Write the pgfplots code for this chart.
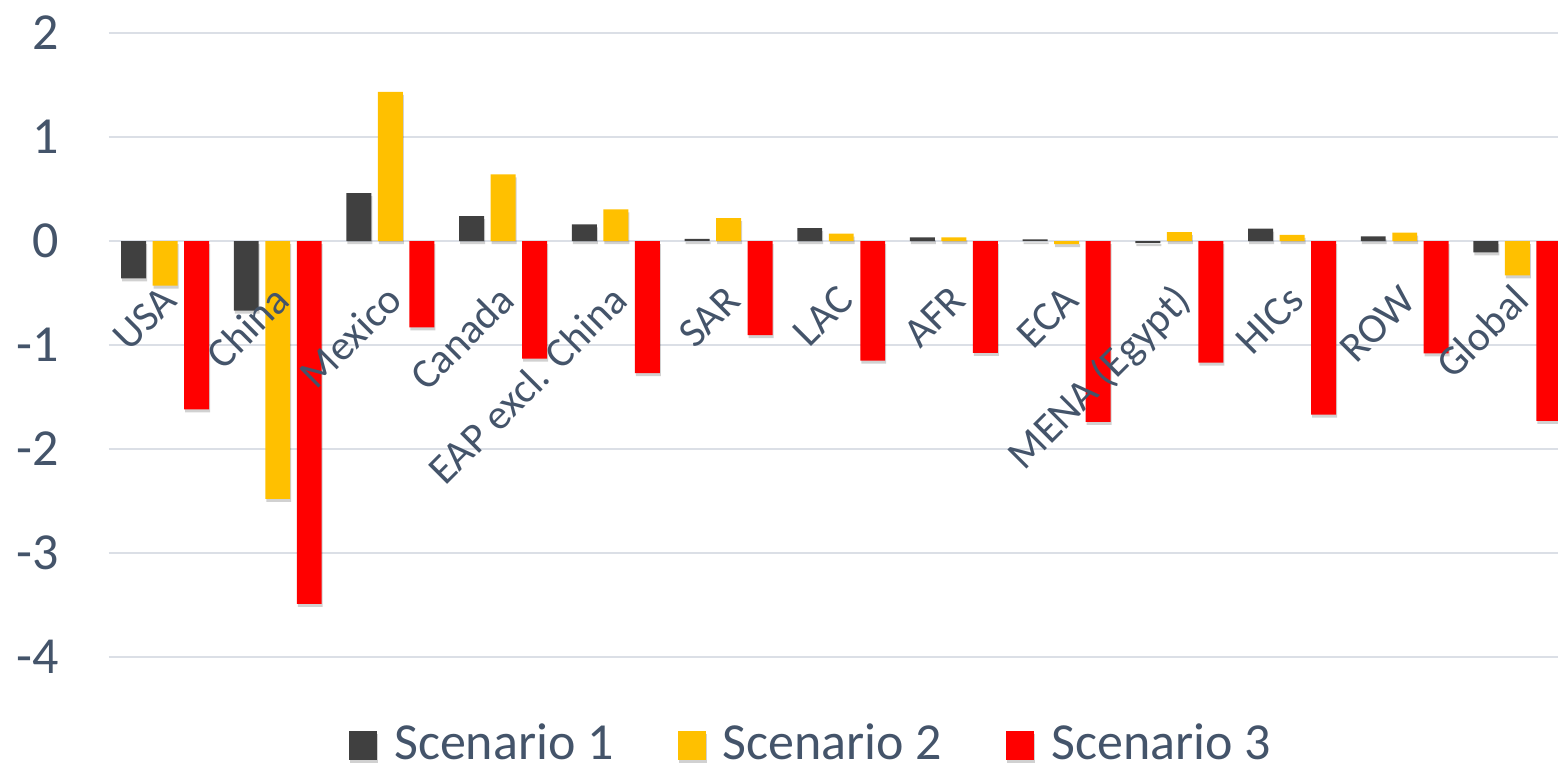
\documentclass[border=0pt]{standalone}
\usepackage{fontspec}
\setmainfont{Carlito}
\usepackage{pgfplots}
\pgfplotsset{compat=1.18}
\usetikzlibrary{shadows}
\definecolor{sone}{HTML}{404040}
\definecolor{stwo}{HTML}{FFC000}
\definecolor{sthree}{HTML}{FF0000}
\definecolor{txt}{HTML}{44546A}
\definecolor{grd}{RGB}{219,223,230}
\pgfplotsset{
  layers/mylayers/.define layer set={axis background, axis grid, axis ticks, axis lines, pre main, main, axis tick labels, axis descriptions, axis foreground}{
    grid style={/pgfplots/on layer=axis grid},
    tick style={/pgfplots/on layer=axis ticks},
    axis line style={/pgfplots/on layer=axis lines},
    label style={/pgfplots/on layer=axis descriptions},
    legend style={/pgfplots/on layer=axis descriptions},
    title style={/pgfplots/on layer=axis descriptions},
    ticklabel style={/pgfplots/on layer=axis tick labels},
  },
  barshadow/.style={drop shadow={shadow xshift=1pt, shadow yshift=-3pt, opacity=0.18, fill=black}},
}
\begin{document}
\begin{tikzpicture}
\begin{axis}[
  set layers=mylayers,
  at={(108.7pt,107pt)}, anchor=south west,
  scale only axis, width=1449.3pt, height=624pt,
  xmin=-0.5, xmax=12.36, ymin=-4, ymax=2,
  ytick={-4,-3,-2,-1,0,1,2},
  xtick={0,1,2,3,4,5,6,7,8,9,10,11,12},
  xticklabels={USA, China, Mexico, Canada, EAP excl. China, SAR, LAC, AFR, ECA, MENA (Egypt), HICs, ROW, Global},
  /pgf/number format/assume math mode=true,
  ymajorgrids, xmajorgrids=false,
  major grid style={draw=grd, line width=2pt},
  axis line style={draw=none},
  tick style={draw=none},
  major tick length=0pt,
  yticklabel style={font=\fontsize{52}{60}\selectfont, text=txt, inner sep=0pt, anchor=east, xshift=-49.7pt},
  xticklabel style={font=\fontsize{42}{50}\selectfont, text=txt, xshift=6pt, yshift=362pt, rotate=45, anchor=east, inner sep=0pt, text height=30pt, text depth=8pt},
  ybar, bar width=0.2218,
  legend columns=3,
  legend style={at={(0.1658,-0.1362)}, anchor=west, draw=none, fill=none, inner sep=0pt,
    font=\fontsize{52}{60}\selectfont, text=txt,
    cells={anchor=base west},
    nodes={inner sep=0pt, text depth=0pt},
    /tikz/every odd column/.append style={column sep=17pt},
    /tikz/every even column/.append style={column sep=64pt}},
  legend image code/.code={\fill[fill=#1] (0pt,0pt) rectangle (28pt,29pt);},
]
\addplot[fill=sone, draw=none, barshadow, bar shift=-0.2795, legend image code/.code={\fill[sone] (0pt,0pt) rectangle (28pt,29pt);}] coordinates {
(0,-0.36) (1,-0.67) (2,0.46) (3,0.24) (4,0.16) (5,0.02) (6,0.125) (7,0.035) (8,0.015) (9,-0.02) (10,0.12) (11,0.045) (12,-0.11)};
\addplot[fill=stwo, draw=none, barshadow, bar shift=0, legend image code/.code={\fill[stwo] (0pt,0pt) rectangle (28pt,29pt);}] coordinates {
(0,-0.43) (1,-2.48) (2,1.435) (3,0.64) (4,0.305) (5,0.22) (6,0.07) (7,0.035) (8,-0.03) (9,0.085) (10,0.06) (11,0.08) (12,-0.33)};
\addplot[fill=sthree, draw=none, barshadow, bar shift=0.2795, legend image code/.code={\fill[sthree] (0pt,0pt) rectangle (28pt,29pt);}] coordinates {
(0,-1.62) (1,-3.49) (2,-0.83) (3,-1.13) (4,-1.27) (5,-0.905) (6,-1.15) (7,-1.075) (8,-1.74) (9,-1.17) (10,-1.67) (11,-1.08) (12,-1.73)};
\legend{Scenario 1, Scenario 2, Scenario 3}
\end{axis}
\pgfresetboundingbox
\useasboundingbox (0,0) rectangle (1558pt,764pt);
\end{tikzpicture}
\end{document}
